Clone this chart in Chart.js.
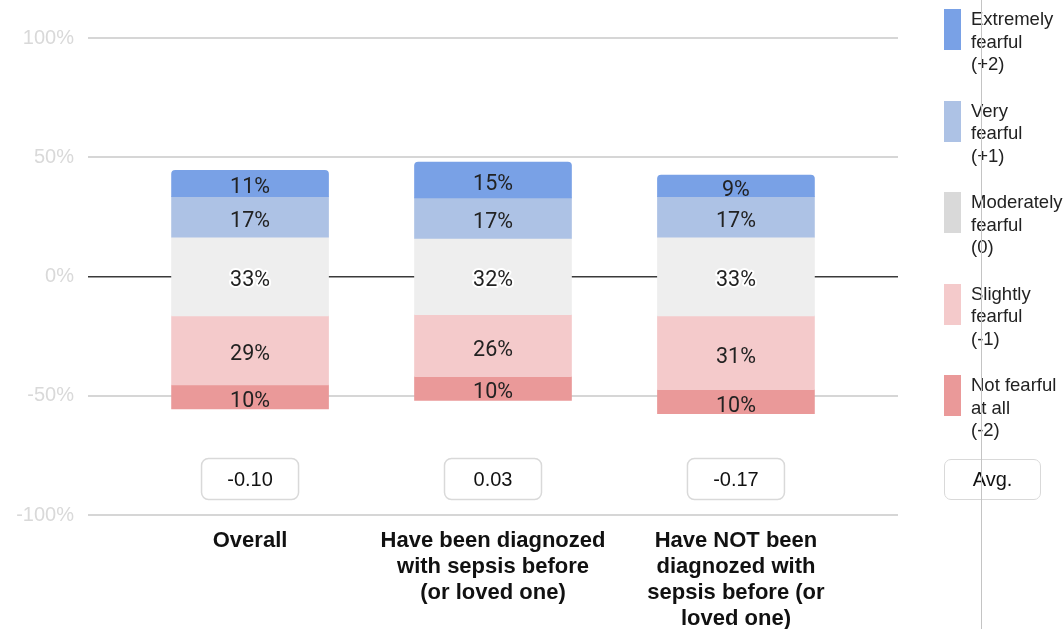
<!DOCTYPE html>
<html>
<head>
<meta charset="utf-8">
<script src="https://cdn.jsdelivr.net/npm/chart.js@4/dist/chart.umd.min.js"></script>
<style>
  html, body { margin: 0; padding: 0; background: #fff; }
  #wrap { position: relative; width: 1064px; height: 629px; overflow: hidden; }
  #chart { position: absolute; left: 0; top: 0; }
  .leg { position: absolute; left: 944px; font-family: "Liberation Sans", Arial, sans-serif; font-size: 18.5px; line-height: 22.5px; color: #222; }
  .leg .sw { position: absolute; left: 0; top: 0; width: 17px; height: 41px; }
  .leg .tx { position: absolute; left: 27px; top: -1px; white-space: nowrap; }
  .avg { position: absolute; box-sizing: border-box; width: 97px; height: 41px; border: 1.5px solid #d9d9d9; border-radius: 7px;
         font-family: "Liberation Sans", Arial, sans-serif; font-size: 20px; line-height: 38px; text-align: center; color: #111; background: #fff; }
  #vline { position: absolute; left: 981px; top: 0; width: 1px; height: 629px; background: #c4c4c4; }
</style>
</head>
<body>
<div id="wrap">
  <canvas id="chart" width="1064" height="629"></canvas>
  <div id="legend"></div>
  <div id="vline"></div>
</div>
<script>
// Survey groups (x-axis labels, one line per array entry)
const categories = [
  ['Overall'],
  ['Have been diagnozed', 'with sepsis before', '(or loved one)'],
  ['Have NOT been', 'diagnozed with', 'sepsis before (or', 'loved one)']
];

// Share of respondents (%) per answer level
const extremelyFearful = [11, 15, 9];
const veryFearful      = [17, 17, 17];
const moderateFearful  = [33, 32, 33];
const slightlyFearful  = [29, 26, 31];
const notFearful       = [10, 10, 10];

// Weighted average score per group
const averages = ['-0.10', '0.03', '-0.17'];

const yTicks = [-100, -50, 0, 50, 100];

const seriesNames = [
  ['Extremely', 'fearful', '(+2)'],
  ['Very', 'fearful', '(+1)'],
  ['Moderately', 'fearful', '(0)'],
  ['Slightly', 'fearful', '(-1)'],
  ['Not fearful', 'at all', '(-2)']
];
const barColors    = ['#79a1e6', '#adc2e5', '#eeeeee', '#f4cacb', '#ea9999'];
const legendColors = ['#79a1e6', '#adc2e5', '#d9d9d9', '#f4cacb', '#ea9999'];

// Diverging layout: the neutral segment is centred on 0, positive levels stack up, negative levels stack down
function ranges() {
  const out = [[], [], [], [], []];
  categories.forEach((_, i) => {
    const half = moderateFearful[i] / 2;
    const vTop = half + veryFearful[i];
    const sBot = -half - slightlyFearful[i];
    out[0].push({ x: i, y: [vTop, vTop + extremelyFearful[i]], v: extremelyFearful[i] });
    out[1].push({ x: i, y: [half, vTop], v: veryFearful[i] });
    out[2].push({ x: i, y: [-half, half], v: moderateFearful[i] });
    out[3].push({ x: i, y: [sBot, -half], v: slightlyFearful[i] });
    out[4].push({ x: i, y: [sBot - notFearful[i], sBot], v: notFearful[i] });
  });
  return out;
}
const segs = ranges();

const datasets = segs.map((data, k) => ({
  label: seriesNames[k].join(' '),
  data: data,
  backgroundColor: barColors[k],
  borderWidth: 0,
  borderSkipped: false,
  borderRadius: k === 0 ? { topLeft: 4, topRight: 4, bottomLeft: 0, bottomRight: 0 } : 0,
  barThickness: 157,
  grouped: false
}));

// Percentage text inside every segment (neutral labels get a white halo)
const segmentLabels = {
  id: 'segmentLabels',
  afterDatasetsDraw(chart) {
    const ctx = chart.ctx;
    ctx.save();
    ctx.font = '21.5px Roboto, "Liberation Sans", sans-serif';
    ctx.textAlign = 'center';
    ctx.textBaseline = 'middle';
    ctx.lineJoin = 'round';
    chart.data.datasets.forEach((ds, k) => {
      chart.getDatasetMeta(k).data.forEach((bar, i) => {
        const p = bar.getProps(['x', 'y', 'base'], true);
        const txt = ds.data[i].v + '%';
        const ty = (p.y + p.base) / 2 + 4.5;
        if (k === 2) {
          ctx.strokeStyle = '#ffffff';
          ctx.lineWidth = 4;
          ctx.strokeText(txt, p.x, ty);
        }
        ctx.fillStyle = '#222';
        ctx.fillText(txt, p.x, ty);
      });
    });
    ctx.restore();
  }
};

// Rounded boxes with the average score under each bar
const avgBoxes = {
  id: 'avgBoxes',
  afterDraw(chart) {
    const ctx = chart.ctx;
    const xs = chart.scales.x;
    const cy = chart.chartArea.bottom - 36;
    ctx.save();
    averages.forEach((txt, i) => {
      const cx = xs.getPixelForValue(i);
      const w = 97, h = 41;
      ctx.beginPath();
      ctx.roundRect(cx - w / 2, cy - h / 2, w, h, 7);
      ctx.fillStyle = '#fff';
      ctx.fill();
      ctx.lineWidth = 1.5;
      ctx.strokeStyle = '#d9d9d9';
      ctx.stroke();
      ctx.fillStyle = '#111';
      ctx.font = '20px "Liberation Sans", Arial, sans-serif';
      ctx.textAlign = 'center';
      ctx.textBaseline = 'middle';
      ctx.fillText(txt, cx, cy + 1);
    });
    ctx.restore();
  }
};

new Chart(document.getElementById('chart'), {
  type: 'bar',
  data: { datasets: datasets },
  options: {
    responsive: false,
    animation: false,
    layout: { padding: { top: 38, right: 166, left: 0, bottom: 0 } },
    plugins: { legend: { display: false }, tooltip: { enabled: false } },
    scales: {
      x: {
        type: 'linear',
        offset: false,
        min: -0.667,
        max: 2.667,
        grid: { display: false, drawTicks: false },
        border: { display: false },
        afterBuildTicks(s) { s.ticks = categories.map((_, i) => ({ value: i })); },
        afterFit(s) { s.height = 114; },
        ticks: {
          padding: 13,
          color: '#111',
          font: { family: '"Liberation Sans", Arial, sans-serif', size: 22, weight: 'bold', lineHeight: 1.18 },
          maxRotation: 0,
          autoSkip: false,
          callback: (v) => categories[v]
        }
      },
      y: {
        min: -100,
        max: 100,
        afterBuildTicks(s) { s.ticks = yTicks.map(v => ({ value: v })); },
        afterFit(s) { s.width = 88; },
        border: { display: false },
        grid: {
          drawTicks: false,
          color: (c) => c.tick && c.tick.value === 0 ? '#3a3a3a' : '#d6d6d6',
          lineWidth: (c) => c.tick && c.tick.value === 0 ? 1.5 : 2
        },
        ticks: {
          padding: 14,
          color: '#d9d9d9',
          font: { family: '"Liberation Sans", Arial, sans-serif', size: 20 },
          callback: (v) => v + '%'
        }
      }
    }
  },
  plugins: [segmentLabels, avgBoxes]
});

// Legend on the right, one block per answer level, plus the "Avg." key box
const legend = document.getElementById('legend');
seriesNames.forEach((lines, k) => {
  const item = document.createElement('div');
  item.className = 'leg';
  item.style.top = (9 + k * 91.5) + 'px';
  const sw = document.createElement('div');
  sw.className = 'sw';
  sw.style.background = legendColors[k];
  const tx = document.createElement('div');
  tx.className = 'tx';
  tx.innerHTML = lines.join('<br>');
  item.appendChild(sw);
  item.appendChild(tx);
  legend.appendChild(item);
});
const avgKey = document.createElement('div');
avgKey.className = 'avg';
avgKey.style.left = '944px';
avgKey.style.top = '459px';
avgKey.textContent = 'Avg.';
legend.appendChild(avgKey);
</script>
</body>
</html>
